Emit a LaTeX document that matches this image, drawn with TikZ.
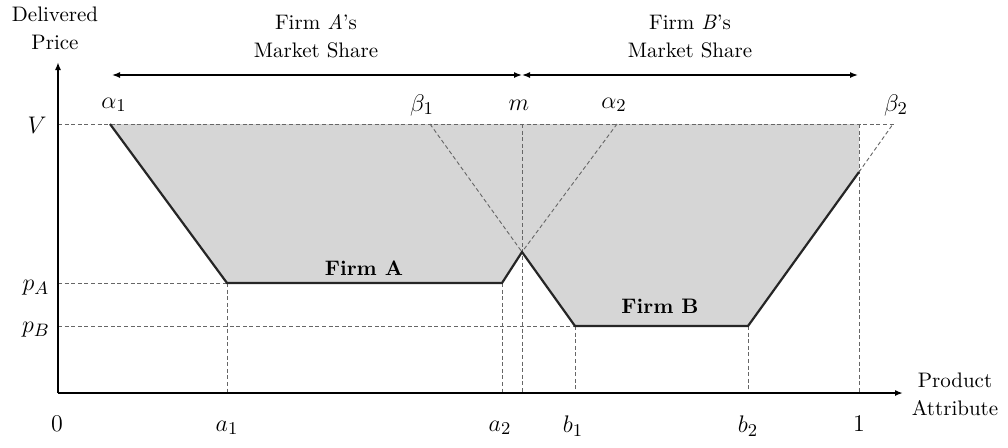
\documentclass[tikz,border=0pt]{standalone}
\usepackage{amsmath}
\usetikzlibrary{arrows.meta}
\begin{document}
\begin{tikzpicture}[%
x=0.5pt, y=-0.5pt, >={Latex[length=4pt,width=3pt]},
guide/.style={draw=black!60, line width=0.45pt, dash pattern=on 2pt off 1.3pt},
price/.style={draw=black!85, line width=1.1pt, line join=miter},
share/.style={line width=0.7pt, <->},
axis/.style={line width=0.8pt, ->},
mlabel/.style={font=\fontsize{13}{15}\selectfont, inner sep=1pt},
tlabel/.style={align=center, font=\fontsize{10.5}{14}\selectfont, inner sep=1pt}
]
\useasboundingbox (0,0) rectangle (1008,447);
% corner points of the price schedules
\coordinate (O) at (58,393);
\coordinate (ymax) at (58,62);
\coordinate (xmax) at (903,393);
\coordinate (vA) at (110,124);
\coordinate (kA1) at (227,283);
\coordinate (kA2) at (502,283);
\coordinate (cross) at (522,252);
\coordinate (kB1) at (575,326);
\coordinate (kB2) at (748,326);
\coordinate (eB) at (859,172);
\coordinate (vB) at (859,124);
\coordinate (vm) at (522,124);
\coordinate (vb1) at (430,124);
\coordinate (va2) at (617,124);
\coordinate (vb2) at (893,124);
\coordinate (vV) at (58,124);
\coordinate (vend) at (895,124);
\coordinate (vpA) at (58,283);
\coordinate (vpB) at (58,326);
% shaded area
\fill[black!16] (vA) -- (vB) -- (eB) -- (kB2) -- (kB1) -- (cross) -- (kA2) -- (kA1) -- cycle;
% guides
\draw[guide] (vV) -- (vend);
\draw[guide] (vpA) -- (kA1);
\draw[guide] (vpB) -- (kB1);
\draw[guide] (kA1) -- (kA1 |- O);
\draw[guide] (kA2) -- (kA2 |- O);
\draw[guide] (kB1) -- (kB1 |- O);
\draw[guide] (kB2) -- (kB2 |- O);
\draw[guide] (vm) -- (vm |- O);
\draw[guide] (vB) -- (vB |- O);
\draw[guide] (vb1) -- (cross);
\draw[guide] (va2) -- (cross);
\draw[guide] (eB) -- (vb2);
% price schedules
\draw[price] (vA) -- (kA1) -- (kA2) -- (cross) -- (kB1) -- (kB2) -- (eB);
% axes
\draw[axis] (O) -- (ymax);
\draw[axis] (O) -- (xmax);
% market shares
\coordinate (sA) at (112,75);
\coordinate (sM) at (522,75);
\coordinate (sB) at (858,75);
\draw[share] (sA) -- (sM);
\draw[share] (sM) -- (sB);
\node[tlabel] (shareA) at (316,36) {Firm \textit{A}'s\\Market Share};
\node[tlabel] (shareB) at (690,36) {Firm \textit{B}'s\\Market Share};
% axis titles
\node[tlabel] (ytitle) at (55,28) {Delivered\\Price};
\node[tlabel] (xtitle) at (955,394) {Product\\Attribute};
% top labels
\node[mlabel] (alpha1) at (114,105) {$\alpha_1$};
\node[mlabel] (beta1) at (422,105) {$\beta_1$};
\node[mlabel] (mm) at (519,105) {$m$};
\node[mlabel] (alpha2) at (614,105) {$\alpha_2$};
\node[mlabel] (beta2) at (896,105) {$\beta_2$};
% price labels
\node[mlabel] (lV) at (37,125) {$V$};
\node[mlabel] (lpA) at (36,288) {$p_A$};
\node[mlabel] (lpB) at (36,330) {$p_B$};
% attribute labels
\node[mlabel] (l0) at (57,424) {$0$};
\node[mlabel] (la1) at (227,428) {$a_1$};
\node[mlabel] (la2) at (500,428) {$a_2$};
\node[mlabel] (lb1) at (573,426) {$b_1$};
\node[mlabel] (lb2) at (748,426) {$b_2$};
\node[mlabel] (l1) at (859,424) {$1$};
% firm names
\node[tlabel, font=\fontsize{10.5}{12}\selectfont\bfseries] (firmA) at (364,268) {Firm A};
\node[tlabel, font=\fontsize{10.5}{12}\selectfont\bfseries] (firmB) at (660,306) {Firm B};
\end{tikzpicture}
\end{document}
